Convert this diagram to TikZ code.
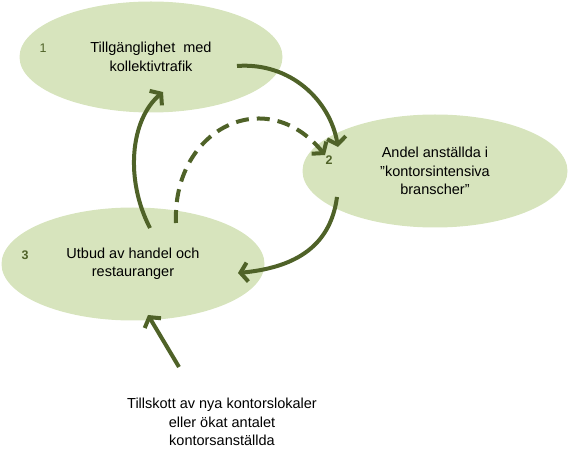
\documentclass[tikz,border=0pt]{standalone}
\usepackage{fontspec}
\setmainfont{Liberation Sans}
\usetikzlibrary{shapes.geometric,arrows.meta}
\definecolor{fillgreen}{HTML}{D7E4BD}
\definecolor{darkolive}{HTML}{4F6228}
\tikzset{
  bubble/.style={ellipse, fill=fillgreen, draw=none, inner sep=0pt, align=center,
    font=\fontsize{14.5}{18.5}\selectfont},
  numlabel/.style={font=\fontsize{12.5}{14}\selectfont, text=darkolive, inner sep=0pt},
  flow/.style={draw=darkolive, line width=4pt,
    -{Straight Barb[length=7pt,width=19pt,line width=4pt]}},
  dflow/.style={flow, dash pattern=on 13pt off 8pt},
  plain/.style={align=center, font=\fontsize{14.5}{18.5}\selectfont, inner sep=0pt}
}
\begin{document}
\begin{tikzpicture}[x=1pt,y=-1pt]
\useasboundingbox (0,0) rectangle (568,473);
\node[bubble, minimum width=263pt, minimum height=111pt] (e1) at (151,57) {Tillgänglighet\ \ med\\kollektivtrafik};
\node[bubble, minimum width=265pt, minimum height=113pt] (e2) at (435,171) {Andel anställda i\\”kontorsintensiva\\branscher”};
\node[bubble, minimum width=263pt, minimum height=113pt] (e3) at (133,264) {Utbud av handel och\\restauranger};
\node[numlabel] (n1) at (43,48) {1};
\node[numlabel, font=\fontsize{12.5}{14}\bfseries] (n2) at (329,160) {2};
\node[numlabel, font=\fontsize{12.5}{14}\bfseries] (n3) at (25,255) {3};
\node[plain] (src) at (222,422) {Tillskott av nya kontorslokaler\\eller ökat antalet\\kontorsanställda};
\coordinate (a1) at (237,66);
\coordinate (a2) at (338,147);
\coordinate (b1) at (337,197);
\coordinate (b2) at (238,273);
\coordinate (c1) at (150,228);
\coordinate (c2) at (163,92);
\coordinate (d1) at (176,223);
\coordinate (d2) at (325,155);
\coordinate (s1) at (179,367);
\coordinate (s2) at (148,315);
\draw[flow] (a1) .. controls (290,62) and (330,100) .. (a2);
\draw[flow] (b1) .. controls (330,250) and (290,268) .. (b2);
\draw[flow] (c1) .. controls (125,180) and (130,120) .. (c2);
\draw[dflow] (d1) .. controls (172,130) and (265,82) .. (d2);
\draw[flow] (s1) -- (s2);
\end{tikzpicture}
\end{document}
